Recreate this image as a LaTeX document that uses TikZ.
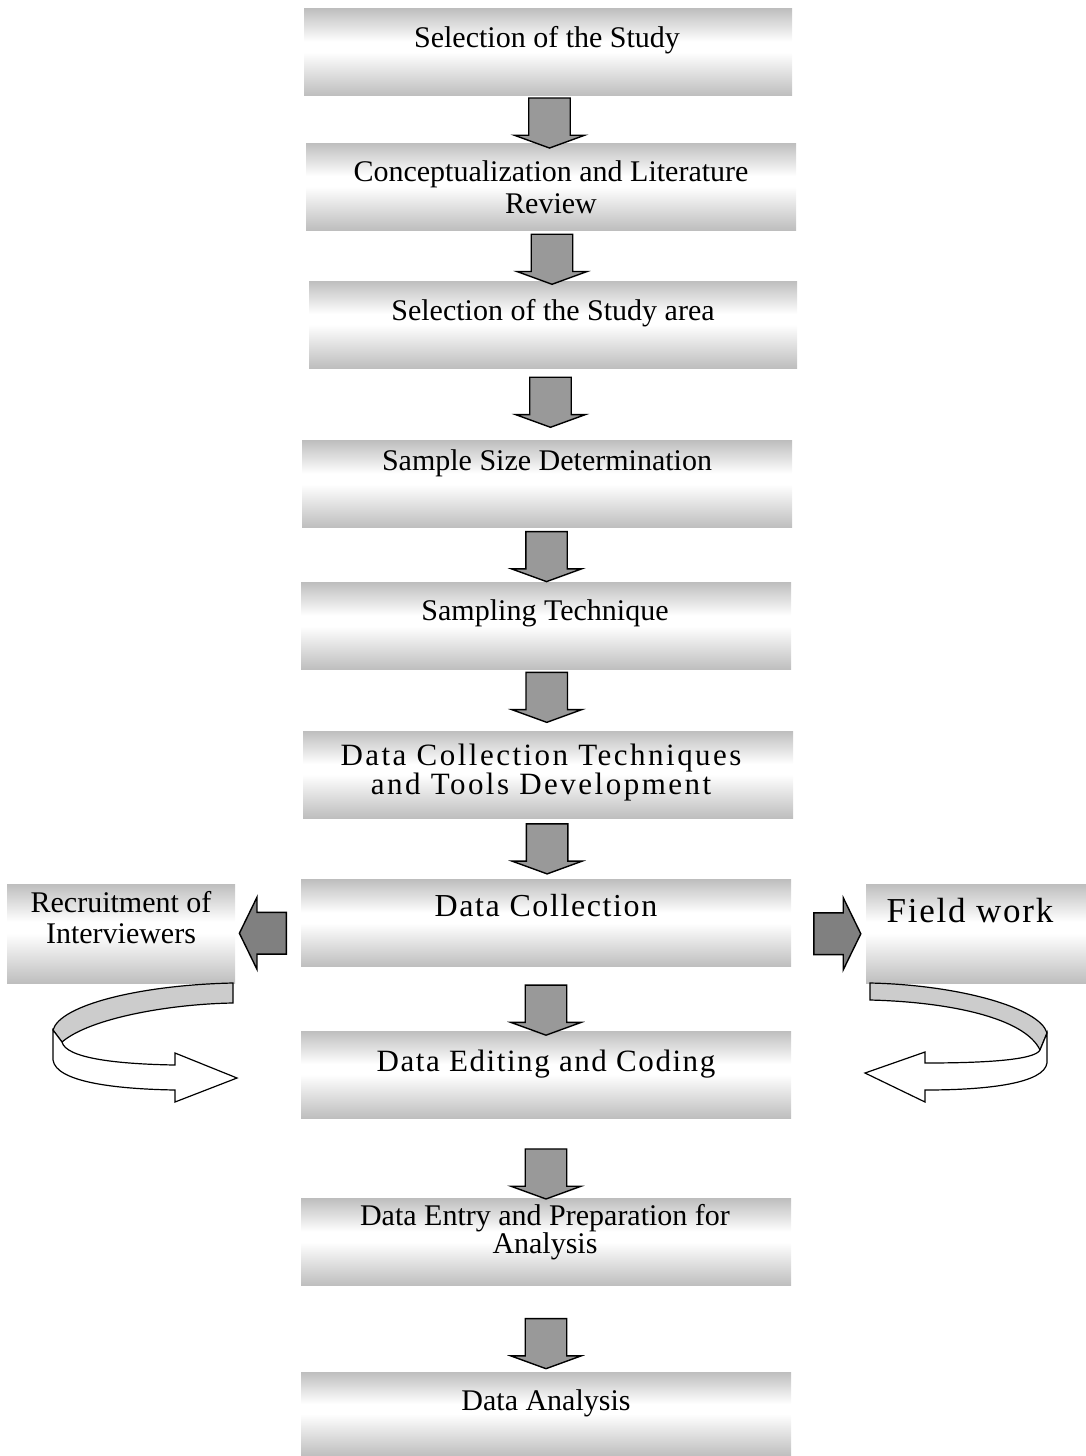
\documentclass[tikz,border=0pt]{standalone}
\usepackage{fontspec}
\setmainfont{Liberation Serif}
\newfontfamily\widefont[LetterSpace=5]{Liberation Serif}
\newfontfamily\widerfont[LetterSpace=8]{Liberation Serif}
\usepackage{tikz}
\usetikzlibrary{calc}
\usetikzlibrary{shapes.arrows}
\definecolor{box-gray}{RGB}{190, 190, 190}
\definecolor{arrow-gray}{RGB}{153, 153, 153}
\definecolor{side-gray}{RGB}{128, 128, 128}
\definecolor{ribbon-gray}{RGB}{204, 204, 204}
\pgfdeclareverticalshading{boxshade}{100bp}{color(0bp)=(box-gray); color(25bp)=(box-gray); color(50bp)=(white); color(56bp)=(white); color(75bp)=(box-gray); color(100bp)=(box-gray)}

\begin{document}
\begin{tikzpicture}[x=0.5pt, y=-0.5pt,
    stepbox/.style={rectangle, shade, shading=boxshade, minimum width=245pt, minimum height=43.5pt, inner sep=0pt},
    steptext/.style={anchor=base, align=center, font=\fontsize{15}{15.5}\selectfont},
    downarrow/.style={single arrow, draw=black, line width=0.7pt, fill=arrow-gray, rotate=-90,
      minimum height=25pt, minimum width=35pt, inner xsep=0pt, inner ysep=10pt, single arrow tip angle=140},
    sidearrow/.style={single arrow, draw=black, line width=0.7pt, fill=side-gray,
      minimum height=23.5pt, minimum width=36pt, inner xsep=0pt, inner ysep=9.5pt, single arrow tip angle=128},
    ribbon/.style={draw=black, line width=0.6pt}]
  \useasboundingbox (0,0) rectangle (1086,1456);

  % main column
  \node[stepbox, minimum width=244pt] (study) at (548,52) {};
  \node[stepbox] (concept) at (551,186.5) {};
  \node[stepbox, minimum width=244pt] (area) at (553,324.5) {};
  \node[stepbox] (size) at (547,484) {};
  \node[stepbox] (technique) at (546,626) {};
  \node[stepbox] (tools) at (548,774.5) {};
  \node[stepbox] (collection) at (546,923) {};
  \node[stepbox] (editing) at (546,1074.5) {};
  \node[stepbox] (entry) at (546,1242) {};
  \node[stepbox, minimum height=42pt] (analysis) at (546,1414) {};

  % side boxes
  \node[stepbox, minimum width=114pt, minimum height=49.5pt] (recruit) at (121,933.5) {};
  \node[stepbox, minimum width=112pt, minimum height=49.5pt] (field) at (978,933.5) {};

  % texts (two-line ones sit on their last baseline)
  \node[steptext] (study-t) at (547,47) {Selection of the Study};
  \node[steptext, font=\fontsize{15}{16}\selectfont] (concept-t) at (551,213) {Conceptualization and Literature\\Review};
  \node[steptext] (area-t) at (553,320) {Selection of the Study area};
  \node[steptext] (size-t) at (547,470) {Sample Size Determination};
  \node[steptext] (technique-t) at (545,620) {Sampling Technique};
  \node[steptext, font=\widerfont\fontsize{15.5}{14.5}\selectfont] (tools-t) at (541,794) {Data Collection Techniques\\and Tools Development};
  \node[steptext, font=\widefont\fontsize{16}{17}\selectfont] (collection-t) at (546,916) {Data Collection};
  \node[steptext, font=\widefont\fontsize{15.5}{17}\selectfont] (editing-t) at (546,1071) {Data Editing and Coding};
  \node[steptext, font=\fontsize{15}{14}\selectfont] (entry-t) at (545,1253) {Data Entry and Preparation for\\Analysis};
  \node[steptext] (analysis-t) at (546,1410) {Data Analysis};
  \node[steptext] (recruit-t) at (121,943) {Recruitment of\\Interviewers};
  \node[steptext, font=\widefont\fontsize{17.5}{19}\selectfont] (field-t) at (970,922) {Field work};

  % block arrows down the column
  \node[downarrow] (a1) at ($(study.south)!0.5!(concept.north)$) {};
  \node[downarrow] (a2) at ($(concept.south)!0.5!(area.north)$) {};
  \node[downarrow] (a3) at ($(area.south)!0.42!(size.north)$) {};
  \node[downarrow] (a4) at ($(size.south)!0.46!(technique.north)$) {};
  \node[downarrow] (a5) at ($(technique.south)!0.39!(tools.north)$) {};
  \node[downarrow] (a6) at ($(tools.south)!0.44!(collection.north)$) {};
  \node[downarrow] (a7) at ($(collection.south)!0.62!(editing.north)$) {};
  \node[downarrow] (a8) at ($(editing.south)!0.65!(entry.north)$) {};
  \node[downarrow] (a9) at ($(entry.south)!0.63!(analysis.north)$) {};

  \node[sidearrow, rotate=180] (to-recruit) at ($(recruit.east)!0.5!(collection.west) + (0,5)$) {};
  \node[sidearrow] (to-field) at ($(collection.east)!0.55!(field.west) + (0,5)$) {};

  % left loop back into the column
  \draw[ribbon, fill=ribbon-gray] (233,983) .. controls (140,985) and (60,1005) .. (53,1030)
    -- (62,1042) .. controls (90,1018) and (170,1004) .. (233,1003) -- cycle;
  \draw[ribbon, fill=white] (53,1030) -- (53,1060) .. controls (56,1082) and (115,1089) .. (175,1090)
    -- (175,1102) -- (237,1078) -- (175,1053) -- (175,1065)
    .. controls (115,1064) and (66,1058) .. (62,1042) -- cycle;

  % right loop back into the column
  \draw[ribbon, fill=ribbon-gray] (870,983) .. controls (960,985) and (1040,1008) .. (1047,1033)
    -- (1040,1050) .. controls (1025,1018) and (950,1002) .. (870,1000) -- cycle;
  \draw[ribbon, fill=white] (1047,1033) -- (1047,1063) .. controls (1044,1083) and (990,1090) .. (925,1090)
    -- (925,1102) -- (865,1073) -- (925,1052) -- (925,1063)
    .. controls (985,1063) and (1035,1060) .. (1040,1050) -- cycle;
\end{tikzpicture}
\end{document}
